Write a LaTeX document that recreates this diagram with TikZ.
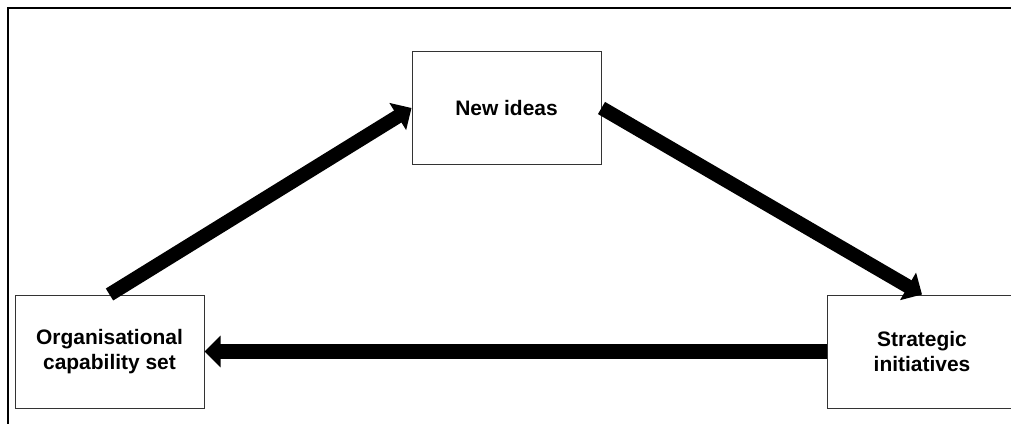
\documentclass[tikz,border=0pt]{standalone}
\usepackage{fontspec}
\setmainfont{Liberation Sans}
\usetikzlibrary{arrows.meta}

\begin{document}
\begin{tikzpicture}[x=0.025cm, y=0.025cm, >={Triangle[length=11.5pt, width=22pt]},
  stage/.style={draw=black!80, line width=0.7pt, minimum width=189*0.025cm, minimum height=113*0.025cm,
    align=center, font=\bfseries\fontsize{14.9}{17.3}\selectfont},
  flow/.style={->, line width=10pt}]
\useasboundingbox (0,0) rectangle (1011,423);
\draw [line width=1.6pt] (8,-20) -- (8,415) -- (1030,415);
\node [stage] (cap) at (109.5,71.5) {Organisational\\capability set};
\node [stage] (ideas) at (506.5,315) {New ideas};
\node [stage, minimum width=210*0.025cm] (init) at (932,71.5) {};
\node [font=\bfseries\fontsize{14.9}{17.3}\selectfont, align=center] (inittext) at (922,71.5) {Strategic\\initiatives};
\draw [flow] (cap.north) -- (ideas.west);
\draw [flow] (ideas.east) -- ([xshift=-10*0.025cm]init.north);
\draw [flow] (init.west) -- (cap.east);
\end{tikzpicture}
\end{document}
